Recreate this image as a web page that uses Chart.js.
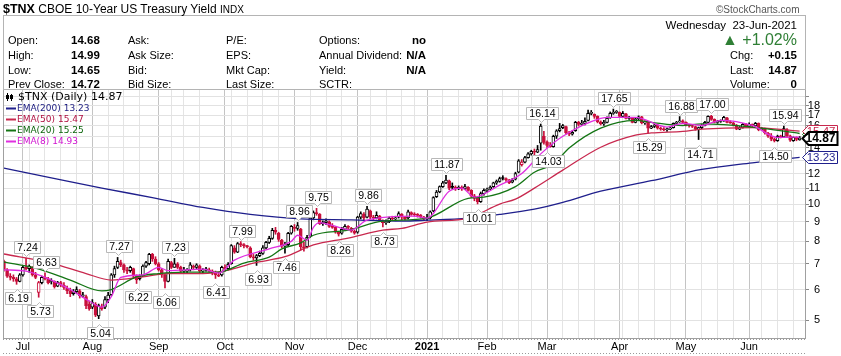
<!DOCTYPE html>
<html><head><meta charset="utf-8">
<script src="https://cdn.jsdelivr.net/npm/chart.js@4.4.0/dist/chart.umd.min.js"></script>
<style>
html,body{margin:0;padding:0;background:#fff;}
#wrap{position:relative;width:841px;height:356px;overflow:hidden;font-family:"Liberation Sans",Arial,sans-serif;}
#c{position:absolute;left:0;top:0;}
.t{position:absolute;white-space:nowrap;font-size:11px;color:#000;line-height:14px;}
.b{font-weight:bold;font-size:11.5px;}
.r{text-align:right;}
#box{position:absolute;left:3px;top:15px;width:801px;height:73px;border:1px solid #b4b4b4;}
</style></head>
<body><div id="wrap">
<canvas id="c" width="841" height="356"></canvas>
<div id="box"></div>
<div class="t" style="left:3px;top:2px;font-size:12px;"><b style="font-size:12.5px">$TNX</b> CBOE 10-Year US Treasury Yield <span style="font-size:10px">INDX</span></div>
<div class="t" style="left:716px;top:3px;font-size:10px;color:#555;">©StockCharts.com</div>
<div class="t" style="left:8px;top:33px;">Open:</div><div class="t b" id="vO" style="left:71px;top:33px;"></div>
<div class="t" style="left:8px;top:48px;">High:</div><div class="t b" id="vH" style="left:71px;top:48px;"></div>
<div class="t" style="left:8px;top:63px;">Low:</div><div class="t b" id="vL" style="left:71px;top:63px;"></div>
<div class="t" style="left:8px;top:77px;">Prev Close:</div><div class="t b" id="vP" style="left:71px;top:77px;"></div>
<div class="t" style="left:128px;top:33px;">Ask:</div>
<div class="t" style="left:128px;top:48px;">Ask Size:</div>
<div class="t" style="left:128px;top:63px;">Bid:</div>
<div class="t" style="left:128px;top:77px;">Bid Size:</div>
<div class="t" style="left:226px;top:33px;">P/E:</div>
<div class="t" style="left:226px;top:48px;">EPS:</div>
<div class="t" style="left:226px;top:63px;">Mkt Cap:</div>
<div class="t" style="left:226px;top:77px;">Last Size:</div>
<div class="t" style="left:319px;top:33px;">Options:</div><div class="t b r" style="right:415px;top:33px;">no</div>
<div class="t" style="left:319px;top:48px;">Annual Dividend:</div><div class="t b r" style="right:415px;top:48px;">N/A</div>
<div class="t" style="left:319px;top:63px;">Yield:</div><div class="t b r" style="right:415px;top:63px;">N/A</div>
<div class="t" style="left:319px;top:77px;">SCTR:</div>
<div class="t r" style="right:44px;top:18px;font-size:11.5px;">Wednesday&nbsp; <span id="vD"></span></div>
<div class="t r" id="vPct" style="right:44px;top:32px;font-size:16px;line-height:16px;color:#2f7f35;"></div>
<div class="t" style="left:730px;top:48px;">Chg:</div><div class="t b r" id="vC" style="right:44px;top:48px;"></div>
<div class="t" style="left:730px;top:63px;">Last:</div><div class="t b r" id="vLa" style="right:44px;top:63px;"></div>
<div class="t" style="left:730px;top:77px;">Volume:</div><div class="t b r" style="right:44px;top:77px;">0</div>
</div>
<script>
// ---------- DATA ----------
const dates = [
'2020-06-23','2020-06-24','2020-06-25','2020-06-26','2020-06-29','2020-06-30',
'2020-07-01','2020-07-02','2020-07-06','2020-07-07','2020-07-08','2020-07-09','2020-07-10','2020-07-13','2020-07-14','2020-07-15','2020-07-16','2020-07-17','2020-07-20','2020-07-21','2020-07-22','2020-07-23','2020-07-24','2020-07-27','2020-07-28','2020-07-29','2020-07-30','2020-07-31',
'2020-08-03','2020-08-04','2020-08-05','2020-08-06','2020-08-07','2020-08-10','2020-08-11','2020-08-12','2020-08-13','2020-08-14','2020-08-17','2020-08-18','2020-08-19','2020-08-20','2020-08-21','2020-08-24','2020-08-25','2020-08-26','2020-08-27','2020-08-28','2020-08-31',
'2020-09-01','2020-09-02','2020-09-03','2020-09-04','2020-09-08','2020-09-09','2020-09-10','2020-09-11','2020-09-14','2020-09-15','2020-09-16','2020-09-17','2020-09-18','2020-09-21','2020-09-22','2020-09-23','2020-09-24','2020-09-25','2020-09-28','2020-09-29','2020-09-30',
'2020-10-01','2020-10-02','2020-10-05','2020-10-06','2020-10-07','2020-10-08','2020-10-09','2020-10-12','2020-10-13','2020-10-14','2020-10-15','2020-10-16','2020-10-19','2020-10-20','2020-10-21','2020-10-22','2020-10-23','2020-10-26','2020-10-27','2020-10-28','2020-10-29','2020-10-30',
'2020-11-02','2020-11-03','2020-11-04','2020-11-05','2020-11-06','2020-11-09','2020-11-10','2020-11-11','2020-11-12','2020-11-13','2020-11-16','2020-11-17','2020-11-18','2020-11-19','2020-11-20','2020-11-23','2020-11-24','2020-11-25','2020-11-27','2020-11-30',
'2020-12-01','2020-12-02','2020-12-03','2020-12-04','2020-12-07','2020-12-08','2020-12-09','2020-12-10','2020-12-11','2020-12-14','2020-12-15','2020-12-16','2020-12-17','2020-12-18','2020-12-21','2020-12-22','2020-12-23','2020-12-24','2020-12-28','2020-12-29','2020-12-30','2020-12-31',
'2021-01-04','2021-01-05','2021-01-06','2021-01-07','2021-01-08','2021-01-11','2021-01-12','2021-01-13','2021-01-14','2021-01-15','2021-01-19','2021-01-20','2021-01-21','2021-01-22','2021-01-25','2021-01-26','2021-01-27','2021-01-28','2021-01-29',
'2021-02-01','2021-02-02','2021-02-03','2021-02-04','2021-02-05','2021-02-08','2021-02-09','2021-02-10','2021-02-11','2021-02-12','2021-02-16','2021-02-17','2021-02-18','2021-02-19','2021-02-22','2021-02-23','2021-02-24','2021-02-25','2021-02-26',
'2021-03-01','2021-03-02','2021-03-03','2021-03-04','2021-03-05','2021-03-08','2021-03-09','2021-03-10','2021-03-11','2021-03-12','2021-03-15','2021-03-16','2021-03-17','2021-03-18','2021-03-19','2021-03-22','2021-03-23','2021-03-24','2021-03-25','2021-03-26','2021-03-29','2021-03-30','2021-03-31',
'2021-04-01','2021-04-05','2021-04-06','2021-04-07','2021-04-08','2021-04-09','2021-04-12','2021-04-13','2021-04-14','2021-04-15','2021-04-16','2021-04-19','2021-04-20','2021-04-21','2021-04-22','2021-04-23','2021-04-26','2021-04-27','2021-04-28','2021-04-29','2021-04-30',
'2021-05-03','2021-05-04','2021-05-05','2021-05-06','2021-05-07','2021-05-10','2021-05-11','2021-05-12','2021-05-13','2021-05-14','2021-05-17','2021-05-18','2021-05-19','2021-05-20','2021-05-21','2021-05-24','2021-05-25','2021-05-26','2021-05-27','2021-05-28',
'2021-06-01','2021-06-02','2021-06-03','2021-06-04','2021-06-07','2021-06-08','2021-06-09','2021-06-10','2021-06-11','2021-06-14','2021-06-15','2021-06-16','2021-06-17','2021-06-18','2021-06-21','2021-06-22','2021-06-23'];

const open = [7.10,6.75,6.50,6.45,6.40,6.30,
6.55,6.85,6.80,6.85,6.55,5.90,6.25,6.45,6.40,6.30,6.30,6.12,6.25,6.15,6.05,5.95,5.85,5.92,5.95,5.78,5.75,5.50,
5.40,5.50,5.12,5.40,5.40,5.65,5.82,6.55,6.85,7.05,6.95,6.75,6.72,6.80,6.50,6.40,6.50,6.90,7.00,7.40,7.20,
7.00,6.75,6.55,6.30,7.05,6.85,7.00,6.85,6.70,6.70,6.75,6.90,6.85,6.90,6.70,6.75,6.75,6.70,6.65,6.55,6.55,
6.85,6.80,7.00,7.70,7.50,7.90,7.85,7.80,7.70,7.30,7.25,7.35,7.45,7.70,7.95,8.15,8.55,8.40,8.05,7.78,7.85,8.40,
8.70,8.65,8.60,7.75,7.75,8.25,9.20,9.50,9.40,8.90,8.95,9.00,8.75,8.70,8.45,8.40,8.60,8.75,8.65,8.50,
8.45,9.25,9.40,9.25,9.60,9.25,9.20,9.30,9.00,8.95,9.00,9.20,9.15,9.25,9.40,9.25,9.20,9.50,9.40,9.38,9.35,9.25,
9.15,9.20,9.60,10.45,10.75,11.10,11.35,11.50,11.10,11.05,10.95,11.05,10.95,11.05,10.85,10.50,10.35,10.15,10.65,
10.85,10.95,11.10,11.35,11.45,11.70,11.65,11.55,11.40,11.60,12.10,12.65,12.85,13.20,13.50,13.70,13.65,14.40,15.00,
14.50,14.20,14.10,15.00,15.50,15.80,15.90,15.30,15.20,15.50,16.30,16.10,16.20,16.50,17.20,17.10,16.90,16.35,16.15,16.30,16.75,17.20,17.30,
17.30,16.90,17.15,16.70,16.75,16.30,16.65,16.85,16.25,16.35,15.75,15.90,16.05,15.75,15.65,15.60,15.65,15.80,16.20,16.35,16.45,
16.30,16.05,15.95,15.90,15.65,15.80,16.00,16.30,16.90,16.60,16.30,16.40,16.45,16.75,16.30,16.25,16.05,15.65,15.80,16.10,
15.90,16.10,15.95,16.20,15.60,15.70,15.30,15.00,14.75,14.60,15.00,14.95,15.60,15.05,14.60,14.90,14.68];

const high = [7.15,6.80,6.60,6.55,6.45,6.60,
6.90,7.24,6.95,6.88,6.65,6.30,6.50,6.63,6.45,6.40,6.32,6.30,6.30,6.25,6.12,6.05,6.00,6.10,6.00,5.90,5.80,5.60,
5.65,5.55,5.50,5.50,5.75,5.90,6.60,6.90,7.27,7.15,7.00,6.85,6.90,6.82,6.55,6.55,6.95,7.10,7.45,7.45,7.30,
7.05,6.80,6.60,7.20,7.10,7.23,7.05,6.90,6.85,6.80,7.05,6.95,7.00,6.95,6.80,6.85,6.82,6.75,6.70,6.65,6.90,
6.95,7.05,7.85,7.80,7.95,7.99,7.90,7.82,7.75,7.40,7.40,7.55,7.80,8.00,8.25,8.65,8.70,8.45,8.10,7.95,8.45,8.80,
8.85,8.96,8.65,7.95,8.30,9.35,9.60,9.75,9.45,9.05,9.15,9.05,8.90,8.75,8.50,8.70,8.85,8.80,8.70,8.55,
9.30,9.55,9.50,9.86,9.65,9.35,9.55,9.35,9.10,9.10,9.25,9.30,9.30,9.55,9.45,9.30,9.65,9.55,9.50,9.45,9.40,9.30,
9.40,9.60,10.45,10.85,11.15,11.45,11.87,11.55,11.35,11.15,11.15,11.15,11.25,11.10,10.90,10.60,10.40,10.75,10.95,
11.00,11.15,11.40,11.55,11.75,11.85,11.70,11.60,11.65,12.10,13.05,13.05,13.30,13.60,13.80,13.90,14.20,16.14,15.45,
14.60,14.45,15.10,15.60,16.20,16.10,15.95,15.45,15.50,16.40,16.40,16.50,16.75,17.54,17.50,17.15,16.95,16.45,16.50,16.85,17.35,17.65,17.50,
17.35,17.40,17.20,16.90,16.80,16.75,16.95,16.90,16.45,16.40,16.00,16.15,16.10,15.85,15.80,15.75,15.85,16.25,16.40,16.88,16.55,
16.35,16.10,16.05,15.95,15.85,16.10,16.40,16.95,17.00,16.65,16.50,16.55,16.90,16.80,16.45,16.30,16.10,15.90,16.20,16.20,
16.25,16.15,16.30,16.25,15.80,15.75,15.35,15.25,14.85,15.10,15.10,15.94,15.70,15.10,14.95,14.95,14.99];

const low = [6.70,6.45,6.35,6.30,6.19,6.28,
6.50,6.75,6.65,6.50,6.40,5.73,6.20,6.35,6.20,6.20,6.05,6.10,6.10,6.00,5.85,5.75,5.80,5.85,5.70,5.72,5.35,5.30,
5.35,5.10,5.04,5.30,5.35,5.55,5.78,6.45,6.80,6.88,6.65,6.60,6.65,6.40,6.22,6.35,6.48,6.85,6.95,7.10,6.95,
6.70,6.45,6.06,6.28,6.80,6.85,6.80,6.65,6.60,6.60,6.70,6.75,6.80,6.60,6.60,6.70,6.65,6.55,6.41,6.48,6.50,
6.70,6.75,6.98,7.45,7.48,7.75,7.70,7.70,7.25,7.15,6.93,7.30,7.40,7.65,7.90,8.10,8.35,8.00,7.70,7.46,7.80,8.35,
8.50,8.55,7.60,7.55,7.70,8.20,9.10,9.35,8.85,8.80,8.85,8.70,8.65,8.40,8.26,8.35,8.55,8.60,8.45,8.35,
8.40,9.15,9.10,9.20,9.15,9.10,9.15,9.00,8.73,8.85,8.95,9.10,9.05,9.20,9.10,9.10,9.15,9.35,9.30,9.25,9.20,9.05,
9.05,9.15,9.55,10.40,10.70,11.05,11.30,10.90,10.95,10.85,10.90,10.85,10.90,10.80,10.40,10.20,10.01,10.10,10.55,
10.75,10.90,11.05,11.25,11.40,11.55,11.45,11.30,11.35,11.55,12.05,12.55,12.80,13.15,13.40,13.35,13.60,13.80,14.30,
14.03,14.05,14.05,14.80,15.40,15.70,15.20,15.05,15.10,15.45,15.95,16.00,16.05,16.45,17.05,16.70,16.25,16.05,16.00,16.25,16.70,17.10,17.20,
16.80,16.85,16.65,16.60,16.25,16.25,16.55,16.15,16.10,15.29,15.70,15.80,15.65,15.55,15.50,15.45,15.60,15.75,16.05,16.30,16.20,
15.95,15.85,15.80,15.55,14.71,15.70,15.95,16.25,16.50,16.25,16.20,16.30,16.40,16.25,16.20,15.95,15.60,15.60,15.75,15.85,
15.85,15.85,15.90,15.50,15.55,15.20,14.90,14.60,14.50,14.55,14.85,14.90,14.90,14.55,14.55,14.60,14.65];

const close = [6.75,6.50,6.45,6.40,6.30,6.55,
6.85,6.80,6.90,6.55,6.45,6.25,6.45,6.40,6.25,6.32,6.10,6.25,6.18,6.08,5.95,5.85,5.92,6.00,5.78,5.80,5.45,5.35,
5.55,5.15,5.45,5.35,5.65,5.80,6.55,6.80,7.10,6.95,6.75,6.70,6.85,6.50,6.35,6.50,6.90,7.05,7.40,7.20,7.00,
6.75,6.55,6.30,7.10,6.85,7.00,6.85,6.70,6.70,6.75,6.95,6.85,6.95,6.70,6.75,6.78,6.70,6.62,6.55,6.50,6.85,
6.78,6.98,7.80,7.50,7.90,7.85,7.80,7.75,7.30,7.25,7.35,7.45,7.70,7.95,8.15,8.55,8.45,8.10,7.78,7.85,8.40,8.75,
8.65,8.80,7.75,7.70,8.20,9.20,9.50,9.45,8.90,8.95,9.05,8.75,8.70,8.45,8.35,8.60,8.75,8.70,8.50,8.40,
9.25,9.45,9.20,9.70,9.25,9.20,9.35,9.05,8.95,9.00,9.20,9.15,9.20,9.45,9.25,9.15,9.55,9.40,9.38,9.35,9.25,9.15,
9.20,9.55,10.40,10.75,11.10,11.35,11.55,11.00,11.05,10.95,11.05,10.95,11.10,10.85,10.50,10.35,10.15,10.65,10.85,
10.90,11.05,11.35,11.45,11.65,11.65,11.55,11.35,11.55,12.00,12.95,12.85,13.20,13.50,13.70,13.65,13.85,15.95,14.45,
14.20,14.10,15.00,15.50,15.70,16.00,15.30,15.20,15.35,16.30,16.10,16.20,16.40,17.20,17.25,16.90,16.35,16.15,16.30,16.70,17.20,17.30,17.40,
16.90,17.20,16.70,16.75,16.30,16.65,16.85,16.25,16.35,15.75,15.90,16.05,15.75,15.65,15.60,15.65,15.75,16.20,16.30,16.45,16.30,
16.05,15.95,15.90,15.65,15.80,16.00,16.30,16.90,16.60,16.30,16.40,16.45,16.80,16.30,16.25,16.05,15.65,15.80,16.10,15.90,
16.10,15.95,16.20,15.60,15.70,15.30,15.00,14.75,14.60,15.00,14.95,15.70,15.05,14.65,14.90,14.72,14.87];

// EMA overlays at sample bars
const ema200Idx = [0,15,31,47,63,78,94,110,126,134,147,157,168,177,189,205,221,237,252];
const ema200Val = [12.40,11.70,11.00,10.40,9.80,9.40,9.15,9.10,9.03,9.08,9.20,9.40,9.70,10.10,10.80,11.50,12.30,12.80,13.23];
const ema50Idx = [0,15,26,34,44,52,63,71,79,89,98,109,120,126,134,147,157,162,168,177,189,200,205,215,221,237,252];
const ema50Val = [7.42,7.03,6.60,6.35,6.47,6.60,6.60,6.74,7.03,7.30,7.83,8.16,8.56,8.65,8.98,9.20,10.00,10.30,11.00,12.25,14.05,15.10,15.30,15.45,15.65,15.80,15.47];
const ema20Idx = [0,10,21,31,34,42,49,57,68,76,84,88,94,98,109,120,134,147,152,162,168,174,179,189,200,205,215,221,237,252];
const ema20Val = [7.07,6.82,6.35,5.95,6.00,6.47,6.60,6.66,6.66,7.03,7.28,7.65,7.93,8.30,8.56,9.03,9.20,10.35,10.43,11.10,12.10,12.70,13.98,15.75,16.50,16.30,16.00,16.15,15.85,15.25];
const ema8Idx = [0,7,15,21,27,31,34,37,44,49,52,63,68,73,84,91,93,96,98,100,104,110,115,130,134,141,145,149,157,164,170,177,189,192,200,210,215,221,227,237,245,252];
const ema8Val = [6.75,6.70,6.35,6.00,5.60,5.40,5.75,6.45,6.55,6.85,6.72,6.78,6.62,7.15,7.65,8.00,8.30,8.05,8.70,8.95,8.80,8.56,9.08,9.30,9.20,10.80,11.00,10.43,11.20,12.00,13.50,15.00,16.70,16.80,16.80,15.85,16.20,16.00,16.50,16.00,14.90,14.93];

// price annotations: bar index, value, H = swing high / L = swing low
const annIdx  = [7,13,4,11,30,36,42,54,51,67,75,80,89,93,99,106,115,120,140,150,170,172,193,204,214,220,224,247,244];
const annVal  = [7.24,6.63,6.19,5.73,5.04,7.27,6.22,7.23,6.06,6.41,7.99,6.93,7.46,8.96,9.75,8.26,9.86,8.73,11.87,10.01,16.14,14.03,17.65,15.29,16.88,14.71,17.00,15.94,14.50];
const annType = ['H','H','L','L','L','H','L','H','L','L','H','L','L','H','H','L','H','L','H','L','H','L','H','L','H','L','H','H','L'];

const monthLabels = ['Jul','Aug','Sep','Oct','Nov','Dec','2021','Feb','Mar','Apr','May','Jun'];
const yTickVals = [5,6,7,8,9,10,11,12,13,14,15,16,17,18];
const yGridVals = [5,6,7,8,9,10,11,12,13,14,15,16,17,18,19];

// ---------- STYLE ----------
const RED = '#c8103c';
const C200 = '#1f1f8c', C50 = '#c8284e', C20 = '#147514', C8 = '#e02ee0';
const L200 = '#1a1a80', L50 = '#b01040', L20 = '#0a650a', L8 = '#d010d0';

// header values
const N = close.length - 1;
document.getElementById('vO').textContent = open[N].toFixed(2);
document.getElementById('vH').textContent = high[N].toFixed(2);
document.getElementById('vL').textContent = low[N].toFixed(2);
document.getElementById('vP').textContent = close[N-1].toFixed(2);
const chg = close[N] - close[N-1];
document.getElementById('vC').textContent = (chg >= 0 ? '+' : '') + chg.toFixed(2);
document.getElementById('vLa').textContent = close[N].toFixed(2);
document.getElementById('vPct').textContent = (chg >= 0 ? '▲ +' : '▼ ') + (chg / close[N-1] * 100).toFixed(2) + '%';
const dd = new Date(dates[N] + 'T00:00:00Z');
const mon3 = ['Jan','Feb','Mar','Apr','May','Jun','Jul','Aug','Sep','Oct','Nov','Dec'];
document.getElementById('vD').textContent = String(dd.getUTCDate()).padStart(2,'0') + '-' + mon3[dd.getUTCMonth()] + '-' + dd.getUTCFullYear();

// grid positions from the dates
const monthStart = [];
const weekStart = [];
for (let i = 1; i < dates.length; i++) {
  if (dates[i].slice(5,7) !== dates[i-1].slice(5,7)) monthStart.push(i);
  const a = new Date(dates[i] + 'T00:00:00Z').getUTCDay(), b = new Date(dates[i-1] + 'T00:00:00Z').getUTCDay();
  if (a < b) weekStart.push(i);
}
const monthSet = new Set(monthStart);
const gridIdx = [];
weekStart.forEach((w, k) => {
  const next = k + 1 < weekStart.length ? weekStart[k+1] : dates.length;
  const m = monthStart.find(v => v >= w && v < next);
  gridIdx.push(m !== undefined ? m : w);
});
monthStart.forEach(m => { if (!gridIdx.includes(m)) gridIdx.push(m); });
gridIdx.sort((a,b) => a-b);
const labelOf = v => { const k = monthStart.indexOf(v); return k >= 0 ? monthLabels[k] : ''; };

const candleCol = close.map((c,i) => c < (i ? close[i-1] : open[i]) ? RED : '#000000');
const bodyFill = close.map((c,i) => c < open[i] ? candleCol[i] : '#ffffff');

const lineDs = (label, idx, val, color, order) => ({
  type: 'line', label, data: idx.map((x,k) => ({x, y: val[k]})),
  borderColor: color, borderWidth: 1.3, pointRadius: 0, fill: false,
  cubicInterpolationMode: 'monotone', order
});

const overlay = {
  id: 'overlay',
  afterDatasetsDraw(chart) {
    const ctx = chart.ctx, xs = chart.scales.x, ys = chart.scales.y, ca = chart.chartArea;
    ctx.save();
    ctx.strokeStyle = '#a0a0a0'; ctx.lineWidth = 1;
    ctx.beginPath();
    ctx.moveTo(ca.left + 0.5, ca.top); ctx.lineTo(ca.left + 0.5, ca.bottom);
    ctx.stroke();
    ctx.setLineDash([1,2]); ctx.strokeStyle = '#9a9a9a';
    ctx.beginPath();
    ctx.moveTo(ca.left, ca.bottom + 1.5); ctx.lineTo(ca.right, ca.bottom + 1.5);
    ctx.moveTo(ca.left, ca.bottom + 15.5); ctx.lineTo(ca.right, ca.bottom + 15.5);
    ctx.stroke();
    ctx.setLineDash([]);

    ctx.font = '10.5px "Liberation Sans", Arial, sans-serif';
    ctx.textAlign = 'center'; ctx.textBaseline = 'middle';
    annIdx.forEach((i, k) => {
      const v = annVal[k], t = v.toFixed(2);
      const px = Math.round(xs.getPixelForValue(i)) + 0.5;
      const py = ys.getPixelForValue(v);
      const w = Math.ceil(ctx.measureText(t).width) + 5, h = 12;
      const left = Math.round(px - w/2) + 0.5;
      let top;
      ctx.beginPath();
      if (annType[k] === 'H') {
        top = Math.round(py - 5 - h) + 0.5;
        const bot = top + h;
        ctx.moveTo(left, top); ctx.lineTo(left + w, top); ctx.lineTo(left + w, bot);
        ctx.lineTo(px + 3, bot); ctx.lineTo(px, bot + 3); ctx.lineTo(px - 3, bot); ctx.lineTo(left, bot);
      } else {
        top = Math.round(py + 8) + 0.5;
        const bot = top + h;
        ctx.moveTo(left, top); ctx.lineTo(px - 3, top); ctx.lineTo(px, top - 3); ctx.lineTo(px + 3, top);
        ctx.lineTo(left + w, top); ctx.lineTo(left + w, bot); ctx.lineTo(left, bot);
      }
      ctx.closePath();
      ctx.fillStyle = '#ffffff'; ctx.fill();
      ctx.strokeStyle = '#b8b8b8'; ctx.lineWidth = 1; ctx.stroke();
      ctx.fillStyle = '#000'; ctx.fillText(t, left + w/2, top + h/2 + 0.5);
    });
    ctx.restore();
  },
  afterDraw(chart) {
    const ctx = chart.ctx, ys = chart.scales.y, ca = chart.chartArea;
    ctx.save();
    const tag = (v, color, bold) => {
      const py = Math.round(ys.getPixelForValue(v)) + 0.5;
      const L = ca.right - 2.5, R = ca.right + 32.5, h = bold ? 13 : 12;
      ctx.beginPath();
      ctx.moveTo(L, py); ctx.lineTo(L + 6, py - h/2); ctx.lineTo(R, py - h/2);
      ctx.lineTo(R, py + h/2); ctx.lineTo(L + 6, py + h/2); ctx.closePath();
      ctx.fillStyle = '#fff'; ctx.fill();
      ctx.lineWidth = bold ? 2 : 1; ctx.strokeStyle = color; ctx.stroke();
      ctx.font = (bold ? 'bold 12px ' : '11.5px ') + '"Liberation Sans", Arial, sans-serif';
      ctx.fillStyle = bold ? '#000' : color; ctx.textAlign = 'right'; ctx.textBaseline = 'middle';
      ctx.fillText(v.toFixed(2), R - 2, py + 0.5);
    };
    tag(ema200Val[ema200Val.length-1], C200, false);
    tag(ema8Val[ema8Val.length-1], C8, false);
    tag(ema20Val[ema20Val.length-1], C20, false);
    tag(ema50Val[ema50Val.length-1], C50, false);
    tag(close[N], '#000', true);

    const lx = ca.left + 3;
    ctx.textAlign = 'left'; ctx.textBaseline = 'middle';
    ctx.fillStyle = '#000';
    ctx.fillRect(lx + 1, 93, 1, 8); ctx.fillRect(lx, 95, 3, 4);
    ctx.fillRect(lx + 5, 94, 1, 7); ctx.strokeStyle = '#000'; ctx.lineWidth = 1; ctx.strokeRect(lx + 4.5, 95.5, 2, 3);
    ctx.font = '11px "DejaVu Sans", sans-serif';
    ctx.fillText('$TNX (Daily) ' + close[N].toFixed(2), lx + 12, 97.5);
    const rows = [['EMA(200) ', ema200Val, L200, C200], ['EMA(50) ', ema50Val, L50, C50], ['EMA(20) ', ema20Val, L20, C20], ['EMA(8) ', ema8Val, L8, C8]];
    ctx.font = '9px "DejaVu Sans", sans-serif';
    rows.forEach((r, k) => {
      const y = 108.5 + k * 11;
      ctx.fillStyle = r[3]; ctx.fillRect(lx, y - 1, 10, 2);
      ctx.fillStyle = r[2]; ctx.fillText(r[0] + r[1][r[1].length-1].toFixed(2), lx + 11, y);
    });
    ctx.restore();
  }
};

Chart.defaults.font.family = '"Liberation Sans", Arial, sans-serif';
new Chart(document.getElementById('c'), {
  type: 'bar',
  data: {
    datasets: [
      lineDs('EMA(8)', ema8Idx, ema8Val, C8, 0),
      lineDs('EMA(20)', ema20Idx, ema20Val, C20, 1),
      lineDs('EMA(50)', ema50Idx, ema50Val, C50, 2),
      lineDs('EMA(200)', ema200Idx, ema200Val, C200, 3),
      { type: 'bar', label: 'body', order: 4, grouped: false,
        data: close.map((c,i) => ({x: i, y: [Math.min(open[i], c), Math.max(open[i], c)]})),
        backgroundColor: bodyFill, borderColor: candleCol, borderWidth: 1, borderSkipped: false,
        barThickness: 3, minBarLength: 1 },
      { type: 'bar', label: 'wick', order: 5, grouped: false,
        data: close.map((c,i) => ({x: i, y: [low[i], high[i]]})),
        backgroundColor: candleCol, borderWidth: 0, barThickness: 1 }
    ]
  },
  options: {
    responsive: false, animation: false, events: [],
    layout: { padding: { top: 89, left: 3, right: 21, bottom: 0 } },
    plugins: { legend: { display: false }, tooltip: { enabled: false } },
    scales: {
      x: {
        type: 'linear', min: -0.3, max: 253.7, offset: false,
        afterBuildTicks: s => { s.ticks = gridIdx.map(v => ({value: v})); },
        afterFit: s => { s.height = 18; },
        ticks: { autoSkip: false, maxRotation: 0, padding: 2, color: '#000',
          font: ctx => ({ size: 11, weight: (ctx.tick && labelOf(ctx.tick.value) === '2021') ? 'bold' : 'normal' }),
          callback: v => labelOf(v) },
        grid: { offset: false, drawTicks: false, lineWidth: 1,
          color: ctx => (ctx.tick && monthSet.has(ctx.tick.value)) ? '#c4c4c4' : '#e4e4e4' },
        border: { display: true, color: '#a0a0a0' }
      },
      y: {
        type: 'logarithmic', position: 'right', min: 4.49, max: 19.9,
        afterBuildTicks: s => { s.ticks = yGridVals.map(v => ({value: v})); },
        afterFit: s => { s.width = 15; },
        ticks: { autoSkip: false, crossAlign: 'far', padding: 0, color: '#000', font: { size: 11 },
          callback: v => yTickVals.includes(v) ? String(v) : '' },
        grid: { color: '#e2e2e2', tickLength: 4, tickColor: '#888', lineWidth: 1 },
        border: { display: true, color: '#a0a0a0' }
      }
    }
  },
  plugins: [overlay]
});
</script>
</body></html>
